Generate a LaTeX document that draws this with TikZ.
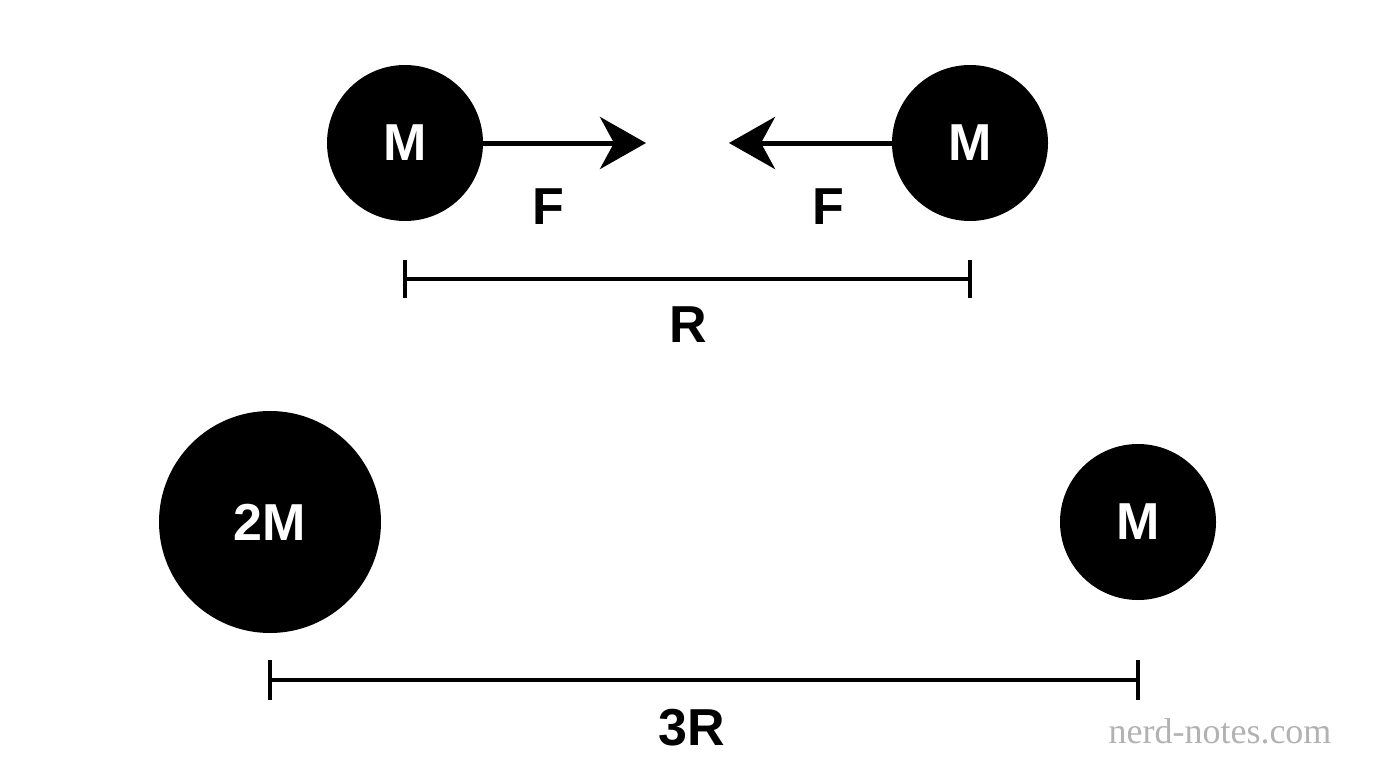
\documentclass[tikz,border=0pt]{standalone}
\usepackage{fontspec}
\setmainfont{Liberation Sans}
\newfontfamily\wm{Liberation Serif}
\usetikzlibrary{arrows.meta}
\begin{document}
\begin{tikzpicture}[x=1pt,y=-1pt,
 ball/.style={circle,fill=black,inner sep=0pt,minimum size=#1,text=white,font=\fontsize{52}{52}\selectfont\bfseries},
 lbl/.style={font=\fontsize{52}{52}\selectfont\bfseries},
 force/.style={line width=5pt,-{Stealth[length=46pt,width=52pt,inset=14pt]}},
 dim/.style={line width=3.5pt}]
\useasboundingbox (0,0) rectangle (1376,768);
\node[ball=156pt] (m1) at (405,143) {M};
\node[ball=156pt] (m2) at (970,143) {M};
\coordinate (t1) at (646,143);
\coordinate (t2) at (729,143);
\draw[force] (m1.east) -- (t1);
\draw[force] (m2.west) -- (t2);
\node[lbl] (f1) at (548,207) {F};
\node[lbl] (f2) at (828,207) {F};
\coordinate (a1) at (405,279); \coordinate (a2) at (970,279);
\draw[dim] (a1) -- (a2);
\draw[dim] (a1) ++(0,-19) -- ++(0,38);
\draw[dim] (a2) ++(0,-19) -- ++(0,38);
\node[lbl] (r) at (688,325) {R};
\node[ball=222pt] (b1) at (270,522) {2M};
\node[ball=156pt] (b2) at (1138,522) {M};
\coordinate (c1) at (270,680); \coordinate (c2) at (1138,680);
\draw[dim] (c1) -- (c2);
\draw[dim] (c1) ++(0,-20) -- ++(0,40);
\draw[dim] (c2) ++(0,-20) -- ++(0,40);
\node[lbl] (r3) at (692,728) {3R};
\node[text=black!30,font=\wm\fontsize{36}{36}\selectfont] (w) at (1220,731) {nerd-notes.com};
\end{tikzpicture}
\end{document}
